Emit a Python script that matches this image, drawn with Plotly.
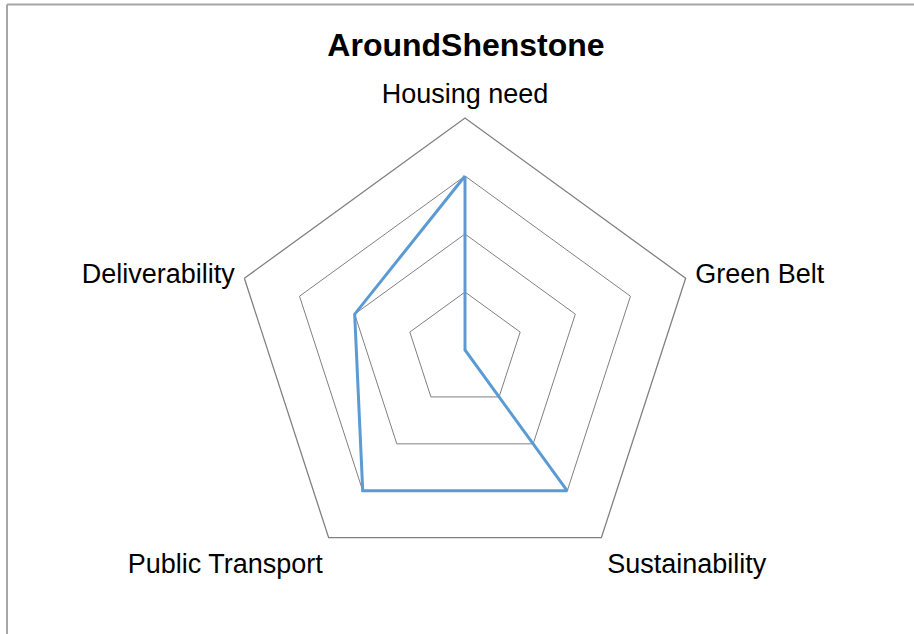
import plotly.graph_objects as go

categories = ["Housing need", "Green Belt", "Sustainability", "Public Transport", "Deliverability"]
values = [3, 0, 3, 3, 2]
title_text = "AroundShenstone"

W, H = 914, 634
cx, cy, R = 465, 350, 232

fig = go.Figure()
fig.add_trace(go.Scatterpolar(
    r=values + values[:1],
    theta=categories + categories[:1],
    mode="lines",
    line=dict(color="#5B9BD5", width=3),
    showlegend=False,
    hoverinfo="skip",
))

fig.update_layout(
    width=W, height=H,
    margin=dict(l=0, r=0, t=0, b=0),
    paper_bgcolor="white",
    plot_bgcolor="white",
    font=dict(family="Liberation Sans, Arial, sans-serif", color="black"),
    title=dict(text="<b>" + title_text + "</b>", x=466 / W, xanchor="center",
               y=1 - 45 / H, yanchor="middle",
               font=dict(size=32, family="Liberation Sans, Arial, sans-serif", color="black")),
    polar=dict(
        domain=dict(x=[(cx - R) / W, (cx + R) / W], y=[(H - cy - R) / H, (H - cy + R) / H]),
        gridshape="linear",
        bgcolor="white",
        radialaxis=dict(range=[0, 4], dtick=1, showticklabels=False, ticks="",
                        showline=False, gridcolor="#808080", gridwidth=1.3),
        angularaxis=dict(rotation=90, direction="clockwise", showgrid=False,
                         showline=True, linecolor="#808080", linewidth=1.3,
                         ticks="outside", ticklen=4, tickcolor="rgba(0,0,0,0)",
                         tickfont=dict(size=27, color="black")),
    ),
    shapes=[
        dict(type="line", xref="paper", yref="paper", x0=7 / W, x1=7 / W, y0=-0.05, y1=1 - 4.5 / H,
             line=dict(color="#a6a6a6", width=2)),
        dict(type="line", xref="paper", yref="paper", x0=7 / W, x1=1.05, y0=1 - 4.5 / H, y1=1 - 4.5 / H,
             line=dict(color="#a6a6a6", width=2)),
    ],
)

fig.write_html("out.html", config={"displayModeBar": False},
               post_script="document.body.style.margin='0';document.body.style.overflow='hidden';")
